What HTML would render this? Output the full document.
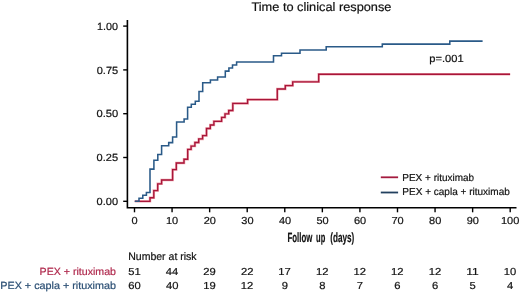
<!DOCTYPE html>
<html><head><meta charset="utf-8"><style>
html,body{margin:0;padding:0;background:#fff;width:520px;height:292px;overflow:hidden}
svg{display:block;font-family:"Liberation Sans",sans-serif;text-rendering:geometricPrecision;will-change:transform}
text{stroke-width:0.2px;paint-order:stroke}
</style></head><body>
<svg width="520" height="292" viewBox="0 0 520 292">
<path d="M134.8,201.30H150.00V197.70H153.80V190.60H157.70V183.80H161.60V180.00H172.60V169.60H176.30V163.00H184.00V159.20H187.70V149.40H191.10V146.10H194.90V142.50H198.70V138.90H202.60V135.60H206.50V128.50H210.30V125.00H213.90V121.30H221.60V117.40H225.00V113.80H228.70V110.50H232.80V103.40H247.60V99.60H277.30V89.00H285.30V85.60H292.70V81.80H318.70V74.20H510.10" fill="none" stroke="#d8263f" stroke-opacity="0.42" stroke-width="2.5"/>
<path d="M134.8,201.30H150.00V197.70H153.80V190.60H157.70V183.80H161.60V180.00H172.60V169.60H176.30V163.00H184.00V159.20H187.70V149.40H191.10V146.10H194.90V142.50H198.70V138.90H202.60V135.60H206.50V128.50H210.30V125.00H213.90V121.30H221.60V117.40H225.00V113.80H228.70V110.50H232.80V103.40H247.60V99.60H277.30V89.00H285.30V85.60H292.70V81.80H318.70V74.20H510.10" fill="none" stroke="#a8163a" stroke-width="1.35"/>
<path d="M134.8,201.30H139.00V198.20H142.80V195.30H146.40V192.40H150.00V169.10H153.90V160.20H157.80V154.40H161.60V145.80H168.70V142.60H172.60V137.00H176.60V122.00H184.10V119.00H187.60V107.30H191.30V104.30H195.30V101.20H199.00V91.50H202.70V82.80H210.40V80.00H217.60V76.90H225.30V71.10H228.90V68.00H232.50V64.90H236.60V62.00H273.50V55.80H281.50V53.30H300.00V49.90H326.20V46.80H382.30V44.10H449.80V41.10H482.60" fill="none" stroke="#2a5a88" stroke-width="1.55"/>
<text x="251.46" y="11.40" font-size="12.3" fill="#111" stroke="#111" textLength="139.95" lengthAdjust="spacingAndGlyphs">Time to clinical response</text>
<path d="M127.4,20.0V207.7H516.5" fill="none" stroke="#000" stroke-width="1.6"/>
<path d="M123.2,26.10H127.4" stroke="#000" stroke-width="1.4"/>
<text x="96.93" y="29.90" font-size="10.4" fill="#111" stroke="#111" textLength="21.05" lengthAdjust="spacingAndGlyphs">1.00</text>
<path d="M123.2,69.90H127.4" stroke="#000" stroke-width="1.4"/>
<text x="96.72" y="73.70" font-size="10.4" fill="#111" stroke="#111" textLength="21.50" lengthAdjust="spacingAndGlyphs">0.75</text>
<path d="M123.2,113.70H127.4" stroke="#000" stroke-width="1.4"/>
<text x="96.51" y="117.20" font-size="10.4" fill="#111" stroke="#111" textLength="21.77" lengthAdjust="spacingAndGlyphs">0.50</text>
<path d="M123.2,157.50H127.4" stroke="#000" stroke-width="1.4"/>
<text x="96.62" y="161.00" font-size="10.4" fill="#111" stroke="#111" textLength="21.50" lengthAdjust="spacingAndGlyphs">0.25</text>
<path d="M123.2,201.30H127.4" stroke="#000" stroke-width="1.4"/>
<text x="96.62" y="204.90" font-size="10.4" fill="#111" stroke="#111" textLength="21.46" lengthAdjust="spacingAndGlyphs">0.00</text>
<path d="M134.50,207.7V212.3" stroke="#000" stroke-width="1.4"/>
<text x="131.64" y="224.10" font-size="10.2" fill="#111" stroke="#111" textLength="6.13" lengthAdjust="spacingAndGlyphs">0</text>
<path d="M172.07,207.7V212.3" stroke="#000" stroke-width="1.4"/>
<text x="165.94" y="224.10" font-size="10.2" fill="#111" stroke="#111" textLength="12.25" lengthAdjust="spacingAndGlyphs">10</text>
<path d="M209.64,207.7V212.3" stroke="#000" stroke-width="1.4"/>
<text x="203.65" y="224.10" font-size="10.2" fill="#111" stroke="#111" textLength="12.25" lengthAdjust="spacingAndGlyphs">20</text>
<path d="M247.21,207.7V212.3" stroke="#000" stroke-width="1.4"/>
<text x="241.29" y="224.10" font-size="10.2" fill="#111" stroke="#111" textLength="12.25" lengthAdjust="spacingAndGlyphs">30</text>
<path d="M284.78,207.7V212.3" stroke="#000" stroke-width="1.4"/>
<text x="278.94" y="224.10" font-size="10.2" fill="#111" stroke="#111" textLength="12.25" lengthAdjust="spacingAndGlyphs">40</text>
<path d="M322.35,207.7V212.3" stroke="#000" stroke-width="1.4"/>
<text x="316.42" y="224.10" font-size="10.2" fill="#111" stroke="#111" textLength="12.25" lengthAdjust="spacingAndGlyphs">50</text>
<path d="M359.92,207.7V212.3" stroke="#000" stroke-width="1.4"/>
<text x="353.93" y="224.10" font-size="10.2" fill="#111" stroke="#111" textLength="12.25" lengthAdjust="spacingAndGlyphs">60</text>
<path d="M397.49,207.7V212.3" stroke="#000" stroke-width="1.4"/>
<text x="391.50" y="224.10" font-size="10.2" fill="#111" stroke="#111" textLength="12.25" lengthAdjust="spacingAndGlyphs">70</text>
<path d="M435.06,207.7V212.3" stroke="#000" stroke-width="1.4"/>
<text x="429.11" y="224.10" font-size="10.2" fill="#111" stroke="#111" textLength="12.25" lengthAdjust="spacingAndGlyphs">80</text>
<path d="M472.63,207.7V212.3" stroke="#000" stroke-width="1.4"/>
<text x="466.66" y="224.10" font-size="10.2" fill="#111" stroke="#111" textLength="12.25" lengthAdjust="spacingAndGlyphs">90</text>
<path d="M510.20,207.7V212.3" stroke="#000" stroke-width="1.4"/>
<text x="501.01" y="224.10" font-size="10.2" fill="#111" stroke="#111" textLength="18.38" lengthAdjust="spacingAndGlyphs">100</text>
<text x="287.53" y="242.45" font-size="13.3" font-weight="bold" fill="#111" stroke="#111" textLength="24.81" lengthAdjust="spacingAndGlyphs">Follow</text>
<text x="316.08" y="242.45" font-size="13.3" font-weight="bold" fill="#111" stroke="#111" textLength="9.17" lengthAdjust="spacingAndGlyphs">up</text>
<text x="330.34" y="242.45" font-size="13.3" font-weight="bold" fill="#111" stroke="#111" textLength="24.01" lengthAdjust="spacingAndGlyphs">(days)</text>
<text x="429.33" y="61.90" font-size="10.4" fill="#111" stroke="#111" textLength="34.36" lengthAdjust="spacingAndGlyphs">p=.001</text>
<path d="M380.8,177.3H398.1" stroke="#a41b3f" stroke-width="1.8"/>
<path d="M380.8,192.5H398.1" stroke="#22405f" stroke-width="1.8"/>
<text x="402.33" y="180.60" font-size="10.1" fill="#111" stroke="#111" textLength="71.74" lengthAdjust="spacingAndGlyphs">PEX + rituximab</text>
<text x="402.33" y="195.40" font-size="10.1" fill="#111" stroke="#111" textLength="107.44" lengthAdjust="spacingAndGlyphs">PEX + capla + rituximab</text>
<text x="128.19" y="259.60" font-size="10.8" fill="#111" stroke="#111" textLength="68.45" lengthAdjust="spacingAndGlyphs">Number at risk</text>
<text x="39.58" y="274.90" font-size="10.4" fill="#b02a4e" stroke="#b02a4e" textLength="76.42" lengthAdjust="spacingAndGlyphs">PEX + rituximab</text>
<text x="0.26" y="288.90" font-size="10.4" fill="#2b4f74" stroke="#2b4f74" textLength="115.74" lengthAdjust="spacingAndGlyphs">PEX + capla + rituximab</text>
<text x="128.31" y="275.10" font-size="10.2" fill="#111" stroke="#111" textLength="12.48" lengthAdjust="spacingAndGlyphs">51</text>
<text x="128.19" y="289.00" font-size="10.2" fill="#111" stroke="#111" textLength="12.48" lengthAdjust="spacingAndGlyphs">60</text>
<text x="165.87" y="275.10" font-size="10.2" fill="#111" stroke="#111" textLength="12.48" lengthAdjust="spacingAndGlyphs">44</text>
<text x="165.92" y="289.00" font-size="10.2" fill="#111" stroke="#111" textLength="12.48" lengthAdjust="spacingAndGlyphs">40</text>
<text x="203.38" y="275.10" font-size="10.2" fill="#111" stroke="#111" textLength="12.48" lengthAdjust="spacingAndGlyphs">29</text>
<text x="203.24" y="289.00" font-size="10.2" fill="#111" stroke="#111" textLength="12.48" lengthAdjust="spacingAndGlyphs">19</text>
<text x="240.97" y="275.10" font-size="10.2" fill="#111" stroke="#111" textLength="12.48" lengthAdjust="spacingAndGlyphs">22</text>
<text x="240.82" y="289.00" font-size="10.2" fill="#111" stroke="#111" textLength="12.48" lengthAdjust="spacingAndGlyphs">12</text>
<text x="278.39" y="275.10" font-size="10.2" fill="#111" stroke="#111" textLength="12.48" lengthAdjust="spacingAndGlyphs">17</text>
<text x="281.66" y="289.00" font-size="10.2" fill="#111" stroke="#111" textLength="6.24" lengthAdjust="spacingAndGlyphs">9</text>
<text x="315.96" y="275.10" font-size="10.2" fill="#111" stroke="#111" textLength="12.48" lengthAdjust="spacingAndGlyphs">12</text>
<text x="319.23" y="289.00" font-size="10.2" fill="#111" stroke="#111" textLength="6.24" lengthAdjust="spacingAndGlyphs">8</text>
<text x="353.53" y="275.10" font-size="10.2" fill="#111" stroke="#111" textLength="12.48" lengthAdjust="spacingAndGlyphs">12</text>
<text x="356.79" y="289.00" font-size="10.2" fill="#111" stroke="#111" textLength="6.24" lengthAdjust="spacingAndGlyphs">7</text>
<text x="391.10" y="275.10" font-size="10.2" fill="#111" stroke="#111" textLength="12.48" lengthAdjust="spacingAndGlyphs">12</text>
<text x="394.33" y="289.00" font-size="10.2" fill="#111" stroke="#111" textLength="6.24" lengthAdjust="spacingAndGlyphs">6</text>
<text x="428.67" y="275.10" font-size="10.2" fill="#111" stroke="#111" textLength="12.48" lengthAdjust="spacingAndGlyphs">12</text>
<text x="431.90" y="289.00" font-size="10.2" fill="#111" stroke="#111" textLength="6.24" lengthAdjust="spacingAndGlyphs">6</text>
<text x="466.24" y="275.10" font-size="10.2" fill="#111" stroke="#111" textLength="12.48" lengthAdjust="spacingAndGlyphs">11</text>
<text x="469.52" y="289.00" font-size="10.2" fill="#111" stroke="#111" textLength="6.24" lengthAdjust="spacingAndGlyphs">5</text>
<text x="503.75" y="275.10" font-size="10.2" fill="#111" stroke="#111" textLength="12.48" lengthAdjust="spacingAndGlyphs">10</text>
<text x="507.12" y="289.00" font-size="10.2" fill="#111" stroke="#111" textLength="6.24" lengthAdjust="spacingAndGlyphs">4</text>
</svg>
</body></html>
